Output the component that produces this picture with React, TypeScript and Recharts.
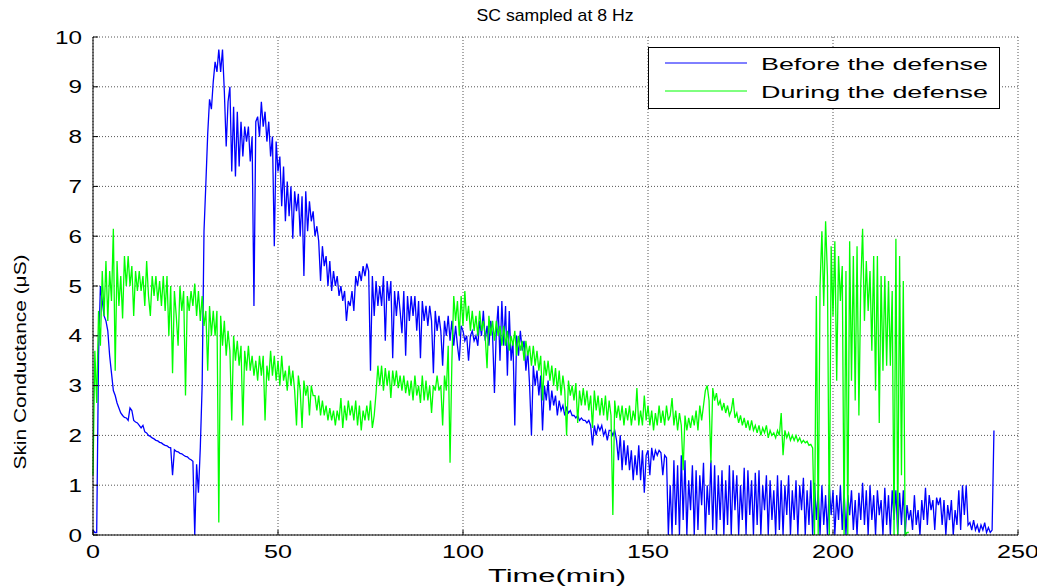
import React from "react";
import { CartesianGrid, Legend, Line, LineChart, XAxis, YAxis } from "recharts";

// sample spacing of the hand-read values below (minutes)
const STEP_MIN = 0.5;

const xTicks = [0, 50, 100, 150, 200, 250];
const yTicks = [0, 1, 2, 3, 4, 5, 6, 7, 8, 9, 10];
const seriesNames = ["Before the defense", "During the defense"];

// skin conductance before the defense (uS), one value every 0.5 min from t = 0
const before = [
  0.1, 0.05, 0.05, 3.6, 5.0, 4.7, 4.4, 4.3, 4.1, 3.6,
  3.25, 2.9, 2.8, 2.65, 2.55, 2.45, 2.4, 2.36, 2.35, 2.3,
  2.55, 2.5, 2.3, 2.27, 2.25, 2.2, 2.15, 2.2, 2.07, 2.05,
  2.0, 1.98, 1.95, 1.93, 1.9, 1.89, 1.86, 1.85, 1.82, 1.8,
  1.79, 1.76, 1.75, 1.2, 1.71, 1.68, 1.67, 1.64, 1.63, 1.6,
  1.58, 1.57, 1.53, 1.51, 1.48, 0.0, 1.42, 0.85, 1.75, 3.0,
  6.1, 7.05, 8.05, 8.75, 8.55, 9.1, 9.5, 9.3, 9.75, 9.3,
  9.75, 8.9, 7.8, 8.7, 9.0, 7.3, 8.6, 7.2, 8.5, 7.4,
  8.3, 7.6, 8.2, 7.9, 8.2, 7.5, 8.0, 4.6, 8.3, 8.4,
  8.0, 8.7, 8.2, 8.5, 7.9, 8.3, 7.6, 8.0, 5.8, 7.9,
  7.3, 7.6, 6.6, 7.4, 6.3, 7.1, 6.4, 7.0, 5.95, 6.9,
  6.5, 6.85, 6.0, 6.8, 5.2, 6.9, 6.1, 6.7, 6.3, 6.5,
  6.0, 6.2, 5.9, 5.1, 5.8, 5.4, 5.6, 5.0, 5.5, 4.9,
  5.3, 5.0, 5.2, 4.8, 5.0, 4.7, 4.9, 4.3, 4.7, 4.6,
  4.9, 4.5, 5.2, 5.0, 5.3, 5.1, 5.4, 5.2, 5.45, 5.3,
  3.3, 5.2, 4.4, 5.1, 4.6, 5.0, 4.6, 5.2, 3.9, 5.1,
  4.7, 5.1, 3.55, 4.9, 4.4, 4.9, 4.5, 4.05, 4.9, 3.6,
  4.8, 4.3, 4.8, 4.4, 4.8, 4.1, 4.7, 3.55, 4.7, 4.3,
  4.6, 4.2, 4.6, 4.3, 3.25, 4.5, 4.1, 4.4, 4.1, 3.4,
  4.3, 4.0, 4.4, 3.9, 4.3, 3.8, 4.2, 3.8, 3.5, 4.2,
  4.1, 3.9, 4.0, 3.5, 4.0, 4.1, 3.9, 4.0, 3.8, 4.3,
  4.0, 4.5, 3.9, 4.2, 3.8, 4.3, 4.0, 2.85, 4.1, 4.6,
  3.5, 4.7, 3.8, 4.6, 3.2, 4.5, 3.5, 3.9, 2.2, 4.0,
  3.6, 4.1, 3.7, 3.9, 3.3, 3.7, 3.0, 2.0, 3.4, 3.0,
  3.3, 2.8, 3.2, 2.1, 3.0, 2.7, 3.1, 2.5, 2.9, 2.6,
  2.8, 2.4, 2.7, 2.5, 2.6, 2.4, 2.55, 2.45, 2.5, 2.4,
  2.4, 2.35, 2.4, 2.3, 2.35, 2.3, 2.3, 2.25, 2.3, 2.2,
  1.8, 2.2, 2.0, 2.2, 2.1, 2.2, 2.0, 2.1, 1.9, 2.1,
  2.1, 2.0, 2.1, 1.9, 1.5, 2.0, 1.3, 1.9, 1.4, 1.8,
  1.3, 1.7, 1.1, 1.6, 1.2, 1.8, 1.1, 1.7, 0.85, 1.6,
  1.7, 1.2, 1.75, 1.5, 1.7, 1.6, 1.7, 1.65, 1.2, 1.6,
  1.55, 0.0, 1.0, 0.0, 1.5, 0.2, 1.4, 0.0, 1.6, 0.3,
  1.5, 0.0, 1.1, 0.5, 1.4, 0.0, 1.3, 0.1, 1.2, 0.6,
  1.45, 0.0, 1.0, 0.4, 1.5, 0.1, 1.4, 0.0, 1.2, 0.3,
  1.3, 0.0, 1.1, 0.2, 1.4, 0.0, 1.3, 0.5, 1.2, 0.0,
  1.0, 0.3, 1.35, 0.0, 1.3, 0.4, 1.1, 0.0, 1.25, 0.2,
  1.3, 0.0, 1.0, 0.5, 1.2, 0.0, 1.1, 0.3, 0.9, 0.0,
  1.2, 0.1, 1.1, 0.0, 1.0, 0.4, 1.2, 0.0, 0.9, 0.3,
  1.1, 0.0, 1.0, 0.5, 1.15, 0.0, 0.9, 0.2, 1.1, 0.0,
  1.05, 0.3, 0.9, 0.0, 1.0, 0.2, 0.8, 0.0, 1.0, 0.4,
  0.9, 0.0, 0.8, 0.3, 1.0, 0.1, 0.9, 0.0, 0.8, 0.4,
  0.9, 0.1, 0.7, 0.0, 0.85, 0.3, 1.05, 0.2, 0.9, 0.0,
  1.0, 0.3, 0.8, 0.0, 0.9, 0.4, 0.7, 0.0, 0.95, 0.2,
  0.8, 0.0, 0.9, 0.3, 0.9, 0.0, 0.85, 0.2, 0.9, 0.0,
  0.6, 0.3, 0.5, 0.1, 0.8, 0.2, 0.5, 0.0, 0.7, 0.3,
  0.95, 0.2, 0.8, 0.5, 0.7, 0.1, 0.75, 0.6, 0.75, 0.2,
  0.7, 0.0, 0.6, 0.3, 0.7, 0.0, 0.5, 0.2, 0.9, 0.1,
  1.0, 0.4, 1.0, 0.2, 0.25, 0.1, 0.3, 0.1, 0.2, 0.05,
  0.2, 0.1, 0.25, 0.05, 0.15, 0.05, 0.1, 2.1,
];

// skin conductance during the defense (uS), same sampling
const during = [
  1.2, 3.7, 2.65, 4.5, 3.8, 5.3, 4.4, 5.5, 4.3, 5.3,
  4.7, 6.15, 3.3, 5.5, 4.6, 5.2, 4.35, 5.6, 5.0, 5.6,
  5.0, 5.4, 4.4, 5.3, 4.9, 5.3, 4.9, 5.2, 4.6, 5.5,
  4.8, 4.4, 5.2, 4.8, 5.2, 4.7, 5.1, 4.6, 5.2, 4.5,
  5.2, 4.0, 5.0, 3.25, 4.9, 4.4, 3.8, 5.0, 4.5, 4.9,
  2.8, 4.8, 4.5, 4.9, 4.6, 5.05, 4.4, 4.9, 4.3, 4.8,
  4.2, 4.5, 3.3, 4.6, 4.0, 4.5, 4.0, 4.5, 0.25, 4.4,
  3.8, 4.3, 3.6, 4.1, 3.7, 2.3, 4.0, 3.5, 3.9, 3.4,
  3.8, 2.2, 3.7, 3.3, 3.8, 3.3, 3.6, 3.2, 3.5, 3.1,
  3.6, 3.2, 3.6, 2.3, 3.4, 3.1, 3.7, 3.2, 3.6, 3.1,
  3.5, 3.0, 3.6, 3.1, 3.3, 2.9, 3.4, 3.0, 3.3, 2.9,
  2.2, 3.2, 2.9, 2.15, 3.1, 2.8, 3.0, 2.4, 3.0, 2.8,
  2.8, 2.5, 2.8, 2.4, 2.7, 2.4, 2.6, 2.3, 2.55, 2.3,
  2.5, 2.2, 2.5, 2.3, 2.75, 2.15, 2.6, 2.3, 2.7, 2.4,
  2.6, 2.3, 2.7, 2.2, 2.6, 2.1, 2.5, 2.3, 2.6, 2.3,
  2.7, 2.15, 2.4, 2.85, 3.4, 3.0, 3.4, 2.9, 3.35, 3.0,
  3.3, 2.75, 3.3, 3.0, 3.3, 2.95, 3.2, 2.9, 3.2, 2.85,
  3.1, 2.8, 3.1, 2.7, 3.2, 2.8, 3.0, 2.65, 3.2, 2.7,
  3.1, 2.7, 3.0, 2.45, 3.0, 2.9, 3.2, 2.9, 3.0, 2.2,
  3.2, 2.9, 3.8, 1.45, 3.5, 4.8, 4.3, 4.7, 4.0, 4.8,
  4.2, 4.9, 4.3, 4.6, 4.1, 4.5, 4.1, 4.4, 4.0, 4.5,
  4.1, 4.3, 4.0, 3.35, 4.4, 4.0, 4.3, 3.9, 4.3, 4.0,
  4.2, 3.8, 4.2, 3.8, 4.1, 3.7, 4.0, 3.8, 4.1, 3.6,
  4.0, 3.7, 3.9, 3.5, 3.9, 3.6, 3.8, 3.4, 3.8, 3.4,
  3.7, 3.3, 3.6, 2.7, 3.5, 3.2, 3.5, 3.1, 3.4, 3.0,
  3.35, 2.9, 3.3, 2.8, 3.2, 2.9, 2.0, 3.1, 2.8, 3.0,
  2.7, 3.05, 2.25, 2.9, 2.6, 2.95, 2.6, 2.9, 2.5, 2.8,
  2.15, 2.9, 2.5, 2.8, 2.4, 2.75, 2.4, 2.8, 2.3, 2.7,
  2.4, 0.4, 2.7, 2.35, 2.6, 2.3, 2.6, 2.2, 2.55, 2.3,
  2.6, 2.2, 2.5, 2.3, 2.95, 2.2, 2.5, 2.2, 2.8, 2.3,
  2.6, 2.2, 2.5, 2.1, 2.45, 2.2, 2.6, 2.25, 2.5, 2.2,
  2.6, 2.3, 2.4, 2.75, 2.2, 2.5, 2.1, 2.45, 2.2, 1.3,
  2.4, 2.1, 2.35, 2.15, 2.4, 2.2, 2.5, 2.1, 2.6, 2.3,
  2.6, 2.9, 3.0, 2.7, 1.45, 2.95, 2.7, 2.85, 2.6, 2.7,
  2.5, 2.65, 2.45, 2.6, 2.4, 2.5, 2.75, 2.35, 2.45, 2.25,
  2.4, 2.2, 2.35, 2.15, 2.3, 2.1, 2.3, 2.1, 2.2, 2.05,
  2.2, 2.0, 2.15, 2.05, 2.2, 1.95, 2.1, 2.0, 2.05, 1.95,
  2.1, 2.0, 2.45, 1.6, 2.1, 1.95, 2.05, 1.9, 2.0, 1.9,
  2.0, 1.88, 1.95, 1.85, 1.9, 1.85, 1.88, 1.8, 1.82, 1.75,
  0.0, 4.8, 0.0, 5.0, 6.1, 4.6, 6.3, 5.2, 0.0, 5.8,
  4.4, 5.9, 3.1, 5.6, 4.7, 5.4, 0.0, 5.3, 0.0, 5.9,
  3.1, 5.6, 2.7, 5.8, 2.4, 5.0, 6.15, 4.3, 5.5, 4.5,
  5.3, 3.7, 5.6, 2.9, 5.6, 2.25, 5.2, 3.3, 5.2, 3.4,
  5.1, 3.4, 4.9, 0.0, 5.95, 0.0, 5.6, 1.2, 5.1, 0.0,
  0.05, 0.05,
];

const FONT = '"Liberation Sans", Arial, Helvetica, sans-serif';
const BLUE = "#0000ff";
const GREEN = "#00ff00";

const toPoints = (values: number[]) =>
  values.map((v, i) => ({ t: i * STEP_MIN, v }));

const beforePoints = toPoints(before);
const duringPoints = toPoints(during);

function XTick(props: any) {
  const { x, y, payload } = props;
  const label = String(payload.value);
  return (
    <text
      x={x}
      y={y + 18}
      textAnchor="middle"
      fontFamily={FONT}
      fontSize={18}
      fill="#000"
      textLength={label.length * 14}
      lengthAdjust="spacingAndGlyphs"
    >
      {label}
    </text>
  );
}

function YTick(props: any) {
  const { x, y, payload } = props;
  const label = String(payload.value);
  return (
    <text
      x={x}
      y={y + 6.5}
      textAnchor="end"
      fontFamily={FONT}
      fontSize={18}
      fill="#000"
      textLength={label.length * 13.5}
      lengthAdjust="spacingAndGlyphs"
    >
      {label}
    </text>
  );
}

function LegendBox({ payload }: any) {
  const items = payload ?? [];
  return (
    <svg width={352} height={62} style={{ display: "block" }}>
      <rect x={0.5} y={0.5} width={351} height={61} fill="#fff" stroke="#000" />
      {items.map((entry: any, i: number) => (
        <g key={entry.value}>
          <line
            x1={17}
            x2={99}
            y1={16 + i * 28}
            y2={16 + i * 28}
            stroke={entry.color}
            strokeWidth={1}
          />
          <text
            x={113}
            y={23 + i * 28}
            fontFamily={FONT}
            fontSize={17}
            fill="#000"
            textLength={227}
            lengthAdjust="spacingAndGlyphs"
          >
            {entry.value}
          </text>
        </g>
      ))}
    </svg>
  );
}

export default function App() {
  return (
    <div
      style={{
        position: "fixed",
        left: 0,
        top: 0,
        width: 1037,
        height: 588,
        background: "#fff",
      }}
    >
      <LineChart
        width={1037}
        height={588}
        margin={{ top: 37, right: 19, bottom: 23, left: 33 }}
      >
        <CartesianGrid stroke="#555" strokeDasharray="1 2" />
        <XAxis
          type="number"
          dataKey="t"
          domain={[0, 250]}
          ticks={xTicks}
          height={30}
          tickSize={-5}
          tickMargin={10}
          tick={<XTick />}
          axisLine={{ stroke: "#000" }}
          tickLine={{ stroke: "#000" }}
        />
        <XAxis
          xAxisId="top"
          orientation="top"
          type="number"
          domain={[0, 250]}
          ticks={xTicks}
          height={0}
          tickSize={-5}
          tick={false}
          axisLine={{ stroke: "#000" }}
          tickLine={{ stroke: "#000" }}
        />
        <YAxis
          type="number"
          domain={[0, 10]}
          ticks={yTicks}
          width={60}
          tickSize={-5}
          tickMargin={16}
          tick={<YTick />}
          axisLine={{ stroke: "#000" }}
          tickLine={{ stroke: "#000" }}
        />
        <YAxis
          yAxisId="right"
          orientation="right"
          type="number"
          domain={[0, 10]}
          ticks={yTicks}
          width={0}
          tickSize={-5}
          tick={false}
          axisLine={{ stroke: "#000" }}
          tickLine={{ stroke: "#000" }}
        />
        <Legend
          align="center"
          verticalAlign="middle"
          layout="horizontal"
          content={<LegendBox />}
          wrapperStyle={{ left: 648, top: 47, width: 352, height: 62 }}
        />
        <Line
          data={beforePoints}
          dataKey="v"
          name={seriesNames[0]}
          type="linear"
          stroke={BLUE}
          strokeWidth={1.3}
          dot={false}
          activeDot={false}
          isAnimationActive={false}
        />
        <Line
          data={duringPoints}
          dataKey="v"
          name={seriesNames[1]}
          type="linear"
          stroke={GREEN}
          strokeWidth={1.3}
          dot={false}
          activeDot={false}
          isAnimationActive={false}
        />
      </LineChart>
      <svg
        width={1037}
        height={588}
        style={{ position: "absolute", left: 0, top: 0, pointerEvents: "none" }}
      >
        <text
          x={555}
          y={21}
          textAnchor="middle"
          fontFamily={FONT}
          fontSize={17}
          fill="#000"
          textLength={157}
          lengthAdjust="spacingAndGlyphs"
        >
          SC sampled at 8 Hz
        </text>
        <text
          x={557}
          y={582}
          textAnchor="middle"
          fontFamily={FONT}
          fontSize={18}
          fill="#000"
          textLength={138}
          lengthAdjust="spacingAndGlyphs"
        >
          Time(min)
        </text>
        <text
          transform="translate(26 362) rotate(-90)"
          textAnchor="middle"
          fontFamily={FONT}
          fontSize={17}
          fill="#000"
          textLength={215}
          lengthAdjust="spacingAndGlyphs"
        >
          Skin Conductance (μS)
        </text>
      </svg>
    </div>
  );
}
